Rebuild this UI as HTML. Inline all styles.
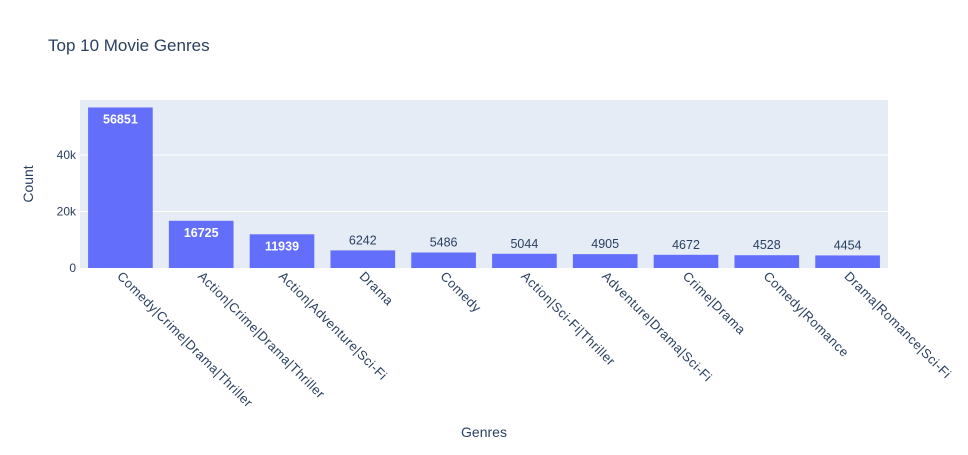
<!DOCTYPE html>
<html><head><meta charset="utf-8"><style>
body{margin:0;background:#fff;font-family:"Liberation Sans",Arial,sans-serif}
svg text{font-family:"Liberation Sans",Arial,sans-serif}
</style></head><body>
<svg id="c" width="968" height="450">
<text x="48" y="51" font-size="17" fill="#2a3f5f">Top 10 Movie Genres</text>
<rect x="80" y="100" width="808" height="168" fill="#e5ecf6"/>
<g id="grid"></g><g id="bars"></g><g id="ticks"></g>
<text x="484" y="437" font-size="14" fill="#2a3f5f" text-anchor="middle">Genres</text>
<text transform="translate(33,184) rotate(-90)" font-size="14" fill="#2a3f5f" text-anchor="middle">Count</text>
</svg>
<script>
const categories=["Comedy|Crime|Drama|Thriller","Action|Crime|Drama|Thriller","Action|Adventure|Sci-Fi","Drama","Comedy","Action|Sci-Fi|Thriller","Adventure|Drama|Sci-Fi","Crime|Drama","Comedy|Romance","Drama|Romance|Sci-Fi"];
const counts=[56851,16725,11939,6242,5486,5044,4905,4672,4528,4454];
const yTicks=[0,20000,40000];
const yTickLabels=["0","20k","40k"];
const NS="http://www.w3.org/2000/svg";
const x0=80,pw=808,y0=268,ymax=59500,ph=168;
const band=pw/categories.length;
const xs=i=>x0+band*(i+0.5);
const ys=v=>y0-v/ymax*ph;
function mk(t,a,p,txt){const e=document.createElementNS(NS,t);for(const k in a)e.setAttribute(k,a[k]);if(txt!==undefined)e.textContent=txt;p.appendChild(e);return e;}
const g=document.getElementById('grid'),b=document.getElementById('bars'),tk=document.getElementById('ticks');
yTicks.forEach((v,i)=>{
 if(v>0){const l=mk('line',{x1:x0,x2:x0+pw,y1:ys(v),y2:ys(v),stroke:'#fff','stroke-width':1},g);
 
 }
 const t=mk('text',{x:x0-4,y:ys(v)+4,'font-size':12,fill:'#2a3f5f','text-anchor':'end'},tk,yTickLabels[i]);
 
 
});
const bw=band*0.8;
counts.forEach((v,i)=>{
 const r=mk('rect',{x:xs(i)-bw/2,y:ys(v),width:bw,height:y0-ys(v),fill:'#636efa'},b);
 
 
 const inside=(y0-ys(v))>25;
 const t=mk('text',{x:xs(i),y:inside?ys(v)+16:ys(v)-6,'font-size':12.5,fill:inside?'#fff':'#2a3f5f','text-anchor':'middle','font-weight':inside?'bold':'normal'},b,String(v));
 
 
 const c=mk('text',{transform:`translate(${xs(i)-4},${y0+9}) rotate(45)`,'font-size':13,'letter-spacing':'0.5',fill:'#2a3f5f'},tk,categories[i]);
 
 
});
</script>
</body></html>
